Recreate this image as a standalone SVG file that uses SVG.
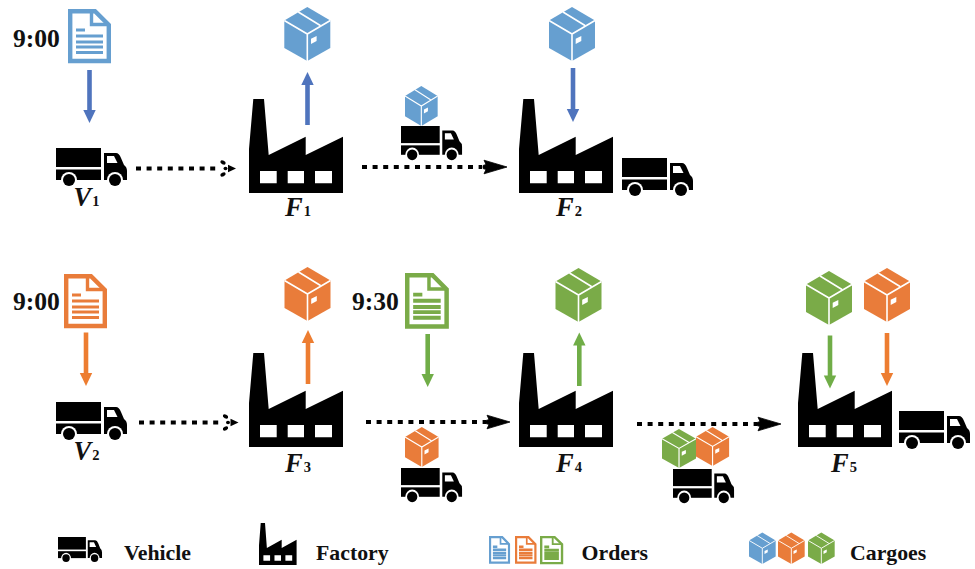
<svg xmlns="http://www.w3.org/2000/svg" width="975" height="569" viewBox="0 0 975 569">
<style>
text{font-family:"Liberation Serif","Times New Roman",serif;font-weight:bold;fill:#111}
.t{font-size:25.6px}
.n{font-size:26.5px;font-style:italic}
.s{font-size:14.5px;font-style:normal}
.l{font-size:21.8px}
.dot{fill:none;stroke:#000;stroke-width:4;stroke-dasharray:5 5.6}
.blue{color:#669fd0}.orange{color:#e97c3a}.green{color:#7aab48}
.ab{color:#4f74bd}.ao{color:#ed7d31}.ag{color:#70ad47}
.shaft{stroke:currentColor;stroke-width:4.6;fill:none}
.head{fill:currentColor}
</style>
<defs>
<g id="truck">
<rect x="0" y="0" width="45" height="19" fill="#000"/>
<rect x="0" y="21.5" width="45" height="10.5" fill="#000"/>
<path d="M48,5H60Q63,5 65,10L68,17Q71,19 71,23V32H48Z" fill="#000"/>
<path d="M51,8H58L61.5,15H51Z" fill="#fff"/>
<circle cx="13" cy="32" r="8" fill="#fff"/><circle cx="13" cy="32" r="6" fill="#000"/>
<circle cx="59" cy="32" r="8" fill="#fff"/><circle cx="59" cy="32" r="6" fill="#000"/>
</g>
<g id="factory">
<path d="M0,94V50L4.3,0H15L19.7,56L56.7,37.7V56L94,37.7V94Z" fill="#000"/>
<path d="M11,72H27.7V84.3H11ZM38.7,72H55V84.3H38.7ZM66,72H83V84.3H66Z" fill="#fff"/>
</g>
<g id="box">
<path d="M23,0L46,13.5V41L23,54L0,41V13.5Z" fill="currentColor"/>
<path d="M0,13.5L23,27L46,13.5M23,27V54M14,5L36,18.5" fill="none" stroke="#fff" stroke-width="1.6"/>
<path d="M26.7,31.7L32.3,29V34L26.7,37Z" fill="#fff"/>
</g>
<g id="doc">
<path d="M2.2,2.2H27L40.8,16V52H2.2Z" fill="#fff" stroke="currentColor" stroke-width="4.4"/>
<path d="M23.5,2V15.5H41" fill="none" stroke="currentColor" stroke-width="3.4"/>
<path d="M8,21H17M8,27H35M8,33H35M8,38H35M8,43.5H35" stroke="currentColor" fill="none"/>
</g>
<path id="dh" d="M0,0L-23,-6.8L-21,-2.5L-24,-1.5V1.5L-21,2.5L-23,6.8Z" fill="#000" stroke="#000" stroke-width=".8" stroke-linejoin="round"/>
<g id="dhs" fill="#000">
<path d="M0,0L-8,-3.8V3.8Z"/>
<ellipse cx="-13" cy="-6" rx="2.8" ry="1.8" transform="rotate(25 -13 -6)"/>
<ellipse cx="-13" cy="6" rx="2.8" ry="1.8" transform="rotate(-25 -13 6)"/>
<ellipse cx="-10.5" cy="0" rx="2" ry="1.8"/>
</g>
</defs>

<g id="connectors">
<g class="ab"><path class="shaft" d="M89.5,70V112"/><path class="head" d="M83.3,110H95.7L89.5,123Z"/></g>
<g class="ab"><path class="shaft" d="M307.5,125V83"/><path class="head" d="M301.3,85H313.7L307.5,72Z"/></g>
<g class="ab"><path class="shaft" d="M573,68V110"/><path class="head" d="M566.8,109H579.2L573,122Z"/></g>
<g class="ao"><path class="shaft" d="M86,332.5V375"/><path class="head" d="M79.8,373H92.2L86,386Z"/></g>
<g class="ao"><path class="shaft" d="M308,384V342"/><path class="head" d="M301.8,343H314.2L308,330Z"/></g>
<g class="ag"><path class="shaft" d="M427.7,334V376"/><path class="head" d="M421.5,374H433.9L427.7,387Z"/></g>
<g class="ag"><path class="shaft" d="M579.3,386V344"/><path class="head" d="M573.1,345.5H585.5L579.3,332.5Z"/></g>
<g class="ag"><path class="shaft" d="M830,335.5V377"/><path class="head" d="M823.8,375.5H836.2L830,388.5Z"/></g>
<g class="ao"><path class="shaft" d="M887,333V375"/><path class="head" d="M880.8,373H893.2L887,386Z"/></g>
<path class="dot" d="M136,168.5H216"/><use href="#dhs" transform="translate(236,168.5)"/>
<path class="dot" d="M362,167H482"/><use href="#dh" transform="translate(507,167)"/>
<path class="dot" d="M139,422.5H219"/><use href="#dhs" transform="translate(238.5,422.5)"/>
<path class="dot" d="M366,422H486"/><use href="#dh" transform="translate(510,422)"/>
<path class="dot" d="M637,424H757"/><use href="#dh" transform="translate(781,424)"/>
</g>

<g id="V1"><use href="#truck" x="56" y="148"/><text class="n" x="73.5" y="206">V<tspan class="s" dx="1">1</tspan></text></g>
<g id="order1"><use href="#doc" class="blue" stroke-width="2.8" transform="translate(68,9)"/><text class="t" x="13" y="47">9:00</text></g>
<g id="F1"><use href="#factory" x="249" y="99"/><text class="n" x="285" y="216">F<tspan class="s" dx="1">1</tspan></text></g>
<g id="cargo1"><use href="#box" class="blue" transform="translate(284.3,7)"/></g>
<g id="truck1"><use href="#truck" transform="translate(401,126) scale(.86,.9)"/><use href="#box" class="blue" transform="translate(405,86) scale(.71,.74)"/></g>
<g id="F2"><use href="#factory" x="519" y="99"/><text class="n" x="556" y="216">F<tspan class="s" dx="1">2</tspan></text></g>
<g id="cargo2"><use href="#box" class="blue" transform="translate(549,7)"/></g>
<g id="truck2"><use href="#truck" x="622" y="158"/></g>

<g id="V2"><use href="#truck" x="56" y="402"/><text class="n" x="73.5" y="459.5">V<tspan class="s" dx="1">2</tspan></text></g>
<g id="order2"><use href="#doc" class="orange" stroke-width="3.2" transform="translate(64,274)"/><text class="t" x="13" y="310">9:00</text></g>
<g id="F3"><use href="#factory" x="249" y="353"/><text class="n" x="285" y="472">F<tspan class="s" dx="1">3</tspan></text></g>
<g id="cargo3"><use href="#box" class="orange" transform="translate(284.5,267)"/></g>
<g id="order3"><use href="#doc" class="green" stroke-width="3.8" transform="translate(405,273) scale(1.02,1.03)"/><text class="t" x="352" y="310">9:30</text></g>
<g id="truck3"><use href="#truck" transform="translate(401,468) scale(.86,.9)"/><use href="#box" class="orange" transform="translate(405,427) scale(.73,.74)"/></g>
<g id="F4"><use href="#factory" x="519" y="353"/><text class="n" x="556" y="472">F<tspan class="s" dx="1">4</tspan></text></g>
<g id="cargo4"><use href="#box" class="green" transform="translate(555.5,268)"/></g>
<g id="truck4"><use href="#truck" transform="translate(673,469) scale(.86,.9)"/><use href="#box" class="green" transform="translate(662,429) scale(.74,.72)"/><use href="#box" class="orange" transform="translate(696,427) scale(.72,.72)"/></g>
<g id="F5"><use href="#factory" x="798" y="353"/><text class="n" x="831" y="472">F<tspan class="s" dx="1">5</tspan></text></g>
<g id="cargo5"><use href="#box" class="green" transform="translate(806,271)"/><use href="#box" class="orange" transform="translate(864,268)"/></g>
<g id="truck5"><use href="#truck" x="899" y="411"/></g>

<g id="legend-vehicle"><use href="#truck" transform="translate(58,537) scale(.62,.66)"/><text class="l" x="124" y="560">Vehicle</text></g>
<g id="legend-factory"><use href="#factory" transform="translate(259,523) scale(.4,.447)"/><text class="l" x="316" y="560">Factory</text></g>
<g id="legend-orders"><use href="#doc" class="blue" stroke-width="4.6" transform="translate(489,536) scale(.49,.51)"/><use href="#doc" class="orange" stroke-width="4.6" transform="translate(515,536) scale(.5,.51)"/><use href="#doc" class="green" stroke-width="5.4" transform="translate(540,536) scale(.54,.52)"/><text class="l" x="581.5" y="560">Orders</text></g>
<g id="legend-cargoes"><use href="#box" class="blue" transform="translate(749,532.6) scale(.58)"/><use href="#box" class="orange" transform="translate(778,532.6) scale(.58)"/><use href="#box" class="green" transform="translate(808,532.6) scale(.58)"/><text class="l" x="850" y="560">Cargoes</text></g>
</svg>
